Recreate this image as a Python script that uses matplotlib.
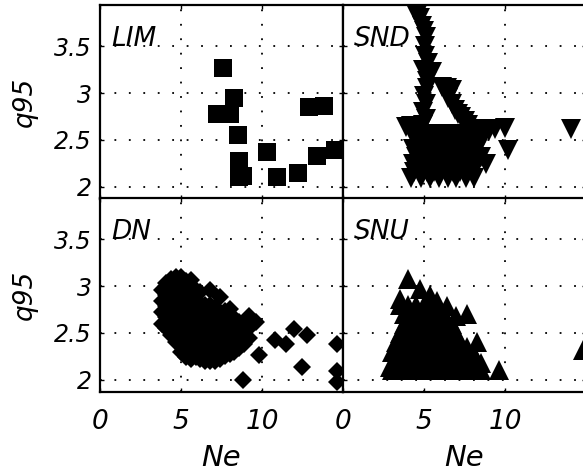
import matplotlib.pyplot as plt

plt.rcParams['font.family'] = ['DejaVu Sans']
plt.rcParams['font.style'] = 'italic'

# LIM (squares)
lim_ne = [7.6, 8.3, 7.2, 8.0, 8.5, 8.6, 8.8, 8.6, 10.3, 10.9, 12.2, 12.9, 13.8, 13.4, 14.5]
lim_q95 = [3.27, 2.95, 2.78, 2.78, 2.55, 2.28, 2.12, 2.1, 2.37, 2.1, 2.15, 2.85, 2.86, 2.33, 2.39]

# SND (down triangles)
snd_ne = [4.4, 4.6, 4.75, 4.9, 5.0, 5.1, 5.05, 5.05, 5.25, 4.95, 5.5, 5.2, 5.2, 5.0, 5.1, 4.95, 5.1, 4.95,
          6.1, 6.4, 6.7, 6.5, 6.7, 6.9, 7.1, 7.3, 7.5, 7.7, 8.0, 8.3, 8.6, 9.0, 9.4, 10.0, 10.2, 14.1,
          3.9, 4.2, 4.6,
          4.3, 4.7, 5.1, 5.5, 5.9, 6.3, 6.7, 7.1, 7.5, 7.9,
          4.5, 4.9, 5.3, 5.7, 6.1, 6.5, 6.9, 7.3, 7.7, 8.1, 8.5,
          4.3, 4.7, 5.1, 5.5, 5.9, 6.3, 6.7, 7.1, 7.5, 7.9, 8.3,
          4.5, 4.9, 5.3, 5.7, 6.1, 6.5, 6.9, 7.3, 7.7, 8.1, 8.5,
          4.3, 4.7, 5.1, 5.5, 5.9, 6.3, 6.7, 7.1, 7.5, 7.9, 8.3, 8.8,
          4.4, 4.8, 5.2, 5.6, 6.0, 6.4, 6.8, 7.2, 7.6, 8.0,
          4.2, 4.8, 5.4, 5.9, 6.5, 7.0, 7.6, 8.1]
snd_q95 = [3.89, 3.85, 3.8, 3.72, 3.66, 3.6, 3.5, 3.4, 3.32, 3.25, 3.22, 3.13, 3.05, 2.97, 2.88, 2.8, 2.72, 2.66,
           3.06, 3.05, 3.03, 2.95, 2.88, 2.82, 2.78, 2.74, 2.7, 2.66, 2.62, 2.6, 2.62, 2.6, 2.62, 2.63, 2.39, 2.62,
           2.64, 2.65, 2.6,
           2.56, 2.56, 2.56, 2.56, 2.56, 2.56, 2.56, 2.56, 2.56, 2.56,
           2.48, 2.48, 2.48, 2.48, 2.48, 2.48, 2.48, 2.48, 2.48, 2.48, 2.48,
           2.40, 2.40, 2.40, 2.40, 2.40, 2.40, 2.40, 2.40, 2.40, 2.40, 2.40,
           2.32, 2.32, 2.32, 2.32, 2.32, 2.32, 2.32, 2.32, 2.32, 2.32, 2.32,
           2.24, 2.24, 2.24, 2.24, 2.24, 2.24, 2.24, 2.24, 2.24, 2.24, 2.24, 2.24,
           2.16, 2.16, 2.16, 2.16, 2.16, 2.16, 2.16, 2.16, 2.16, 2.16,
           2.09, 2.09, 2.09, 2.09, 2.09, 2.09, 2.09, 2.09]

# DN (diamonds)
dn_ne = [3.8, 3.8, 3.8, 3.8,
         4.1, 4.1, 4.1, 4.1, 4.1,
         4.4, 4.4, 4.4, 4.4, 4.4, 4.4,
         4.7, 4.7, 4.7, 4.7, 4.7, 4.7, 4.7,
         5.0, 5.0, 5.0, 5.0, 5.0, 5.0, 5.0, 5.0,
         5.3, 5.3, 5.3, 5.3, 5.3, 5.3, 5.3, 5.3,
         5.6, 5.6, 5.6, 5.6, 5.6, 5.6, 5.6, 5.6,
         5.9, 5.9, 5.9, 5.9, 5.9, 5.9, 5.9,
         6.2, 6.2, 6.2, 6.2, 6.2, 6.2, 6.2,
         6.5, 6.5, 6.5, 6.5, 6.5, 6.5,
         6.8, 6.8, 6.8, 6.8, 6.8, 6.8, 6.8,
         7.1, 7.1, 7.1, 7.1, 7.1, 7.1,
         7.4, 7.4, 7.4, 7.4, 7.4, 7.4,
         7.7, 7.7, 7.7, 7.7, 7.7,
         8.0, 8.0, 8.0, 8.0, 8.0,
         8.3, 8.3, 8.3, 8.3,
         8.6, 8.6, 8.6, 8.6,
         8.9, 8.9, 8.9,
         9.2, 9.2, 9.2,
         9.6,
         9.8, 8.8, 10.8, 11.5, 12.0, 12.8, 12.5, 14.6, 14.6, 14.6]
dn_q95 = [2.6, 2.72, 2.84, 2.96,
          2.55, 2.67, 2.79, 2.91, 3.03,
          2.48, 2.6, 2.72, 2.84, 2.96, 3.08,
          2.4, 2.52, 2.64, 2.76, 2.88, 3.0, 3.1,
          2.3, 2.42, 2.54, 2.66, 2.78, 2.9, 3.02, 3.1,
          2.24, 2.36, 2.48, 2.6, 2.72, 2.84, 2.96, 3.05,
          2.22, 2.34, 2.46, 2.58, 2.7, 2.82, 2.94, 3.06,
          2.24, 2.36, 2.48, 2.6, 2.72, 2.84, 2.96,
          2.22, 2.34, 2.46, 2.58, 2.7, 2.82, 2.94,
          2.2, 2.32, 2.44, 2.56, 2.68, 2.8,
          2.2, 2.32, 2.44, 2.56, 2.68, 2.8, 2.96,
          2.2, 2.32, 2.44, 2.56, 2.68, 2.78,
          2.22, 2.34, 2.46, 2.58, 2.7, 2.88,
          2.25, 2.37, 2.49, 2.61, 2.73,
          2.28, 2.4, 2.52, 2.64, 2.76,
          2.3, 2.42, 2.54, 2.66,
          2.34, 2.46, 2.58, 2.62,
          2.38, 2.5, 2.6,
          2.45, 2.55, 2.68,
          2.62,
          2.27, 2.0, 2.43, 2.38, 2.54, 2.48, 2.14, 2.38, 2.09, 1.98]

# SNU (up triangles)
snu_ne = [4.0, 4.75, 3.5, 5.4, 5.8, 6.4, 7.65, 7.0, 8.3, 7.65, 9.6, 8.5, 2.9, 3.3, 3.6,
          3.0, 3.5, 4.0, 4.5, 5.0, 5.5, 6.0, 6.5, 7.0, 7.5, 8.0, 8.5,
          3.25, 3.75, 4.25, 4.75, 5.25, 5.75, 6.25, 6.75, 7.25, 7.75, 8.25,
          3.0, 3.5, 4.0, 4.5, 5.0, 5.5, 6.0, 6.5, 7.0, 7.5, 8.0,
          3.25, 3.75, 4.25, 4.75, 5.25, 5.75, 6.25, 6.75, 7.25,
          3.5, 4.0, 4.5, 5.0, 5.5, 6.0, 6.5, 7.0,
          3.75, 4.25, 4.75, 5.25, 5.75, 6.25, 6.75,
          3.75, 4.25, 4.75, 5.25, 5.75, 6.25,
          3.5, 4.0, 4.5, 5.0, 5.5,
          14.8]
snu_q95 = [3.08, 2.97, 2.86, 2.9, 2.84, 2.79, 2.7, 2.68, 2.4, 2.35, 2.11, 2.18, 2.14, 2.32, 2.43,
           2.1, 2.1, 2.1, 2.1, 2.1, 2.1, 2.1, 2.1, 2.1, 2.1, 2.1, 2.1,
           2.2, 2.2, 2.2, 2.2, 2.2, 2.2, 2.2, 2.2, 2.2, 2.2, 2.2,
           2.3, 2.3, 2.3, 2.3, 2.3, 2.3, 2.3, 2.3, 2.3, 2.3, 2.3,
           2.4, 2.4, 2.4, 2.4, 2.4, 2.4, 2.4, 2.4, 2.4,
           2.5, 2.5, 2.5, 2.5, 2.5, 2.5, 2.5, 2.5,
           2.6, 2.6, 2.6, 2.6, 2.6, 2.6, 2.6,
           2.7, 2.7, 2.7, 2.7, 2.7, 2.7,
           2.8, 2.8, 2.8, 2.8, 2.8,
           2.32]

panels = [
    ("LIM", lim_ne, lim_q95, "s", 13.5),
    ("SND", snd_ne, snd_q95, "v", 13.8),
    ("DN", dn_ne, dn_q95, "D", 9.4),
    ("SNU", snu_ne, snu_q95, "^", 13.8),
]

fig = plt.figure(figsize=(5.83, 4.75), dpi=100)
W = 243 / 583
lefts = [100 / 583, 343 / 583]
bottoms = [1 - 199 / 475, 1 - 392 / 475]
H = 194 / 475

for i, (name, xs, ys, mk, ms) in enumerate(panels):
    row, col = divmod(i, 2)
    ax = fig.add_axes([lefts[col], bottoms[row], W, H])
    ax.plot(xs, ys, linestyle="none", marker=mk, markersize=ms,
            color="black", markeredgewidth=0)
    ax.set_xlim(0, 15)
    ax.set_ylim(1.87, 3.94)
    ax.set_xticks([0, 5, 10, 15])
    ax.set_yticks([2, 2.5, 3, 3.5])
    ax.set_yticklabels(["2", "2.5", "3", "3.5"])
    ax.grid(True, color="black", linestyle=(0, (1, 7)), linewidth=1.3)
    ax.tick_params(direction="in", length=3, width=1, top=True, right=True)
    ax.tick_params(axis="y", labelsize=17, pad=6)
    ax.tick_params(axis="x", labelsize=19, pad=12)
    for sp in ax.spines.values():
        sp.set_linewidth(1.6)
    ax.text(0.7, 3.5, name, fontsize=19, va="baseline")
    if row == 0:
        ax.tick_params(labelbottom=False)
    else:
        ax.set_xticklabels(["0", "5", "10", ""])
        ax.set_xlabel("Ne", fontsize=21, labelpad=7)
    if col == 1:
        ax.tick_params(labelleft=False)
    else:
        ax.set_ylabel("q95", fontsize=19, labelpad=12)

fig.savefig("out.png", dpi=100)
